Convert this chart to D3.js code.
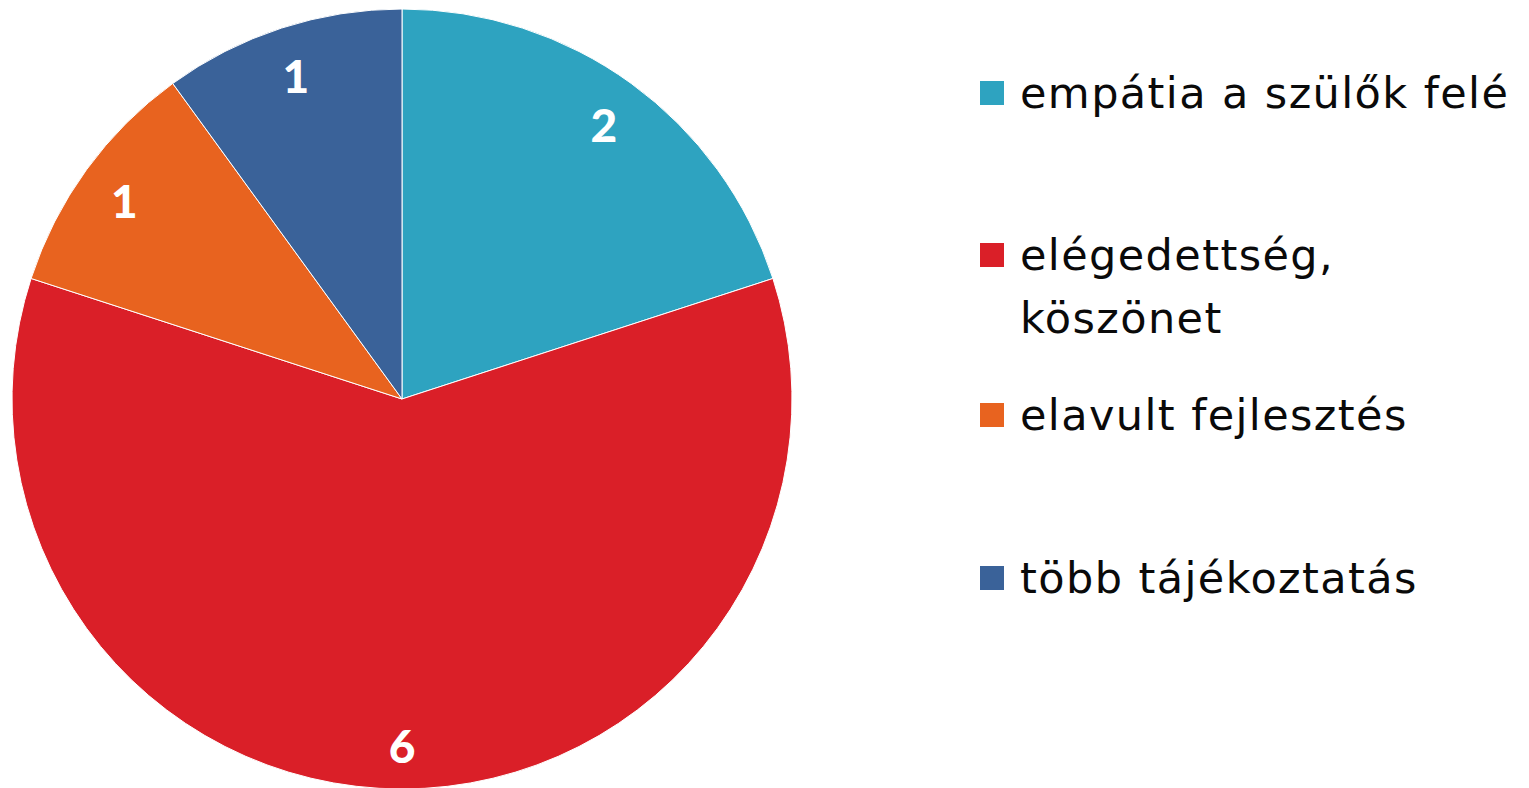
<!DOCTYPE html>
<html><head><meta charset="utf-8">
<script src="https://cdn.jsdelivr.net/npm/d3@7"></script>
<style>html,body{margin:0;padding:0;background:#fff;}svg{display:block;}</style>
</head><body>
<svg id="chart" width="1529" height="788"></svg>
<script>
const categories = ["empátia a szülők felé", "elégedettség, köszönet", "elavult fejlesztés", "több tájékoztatás"];
const legendLines = [["empátia a szülők felé"], ["elégedettség,", "köszönet"], ["elavult fejlesztés"], ["több tájékoztatás"]];
const values = [2, 6, 1, 1];
const colors = ["#2EA3C0", "#DA1F28", "#E8631F", "#3A6299"];

const svg = d3.select("#chart");
const cx = 402, cy = 399, R = 390;
const data = categories.map((c, i) => ({cat: c, value: values[i], color: colors[i], lines: legendLines[i]}));

const pie = d3.pie().value(d => d.value).sort(null);
const arc = d3.arc().innerRadius(0).outerRadius(R);
const labelArc = d3.arc().innerRadius(R * 0.88).outerRadius(R * 0.88);

const g = svg.append("g").attr("transform", `translate(${cx},${cy})`);
const arcs = pie(data);
g.selectAll("path").data(arcs).join("path")
  .attr("d", arc).attr("fill", d => d.data.color)
  .attr("stroke", "#fff").attr("stroke-width", 1);

g.selectAll("text").data(arcs).join("text")
  .attr("transform", d => `translate(${labelArc.centroid(d)})`)
  .attr("text-anchor", "middle").attr("dy", "0.45em")
  .attr("fill", "#fff").attr("font-family", "Lato, 'DejaVu Sans', sans-serif")
  .attr("font-weight", "900").attr("font-size", 46)
  .text(d => d.data.value);

const rowY = [93, 255, 415, 578];
const lg = svg.append("g");
data.forEach((d, i) => {
  const row = lg.append("g").attr("transform", `translate(980,${rowY[i]})`);
  row.append("rect").attr("x", 0).attr("y", -12).attr("width", 24).attr("height", 24).attr("fill", d.color);
  const t = row.append("text").attr("x", 40).attr("y", 15)
    .attr("font-family", "'DejaVu Sans', sans-serif").attr("font-size", 43)
    .attr("letter-spacing", 1.4).attr("fill", "#0a0a0a");
  d.lines.forEach((ln, k) => {
    t.append("tspan").attr("x", 40).attr("dy", k === 0 ? 0 : 63).text(ln);
  });
});
</script>
</body></html>
